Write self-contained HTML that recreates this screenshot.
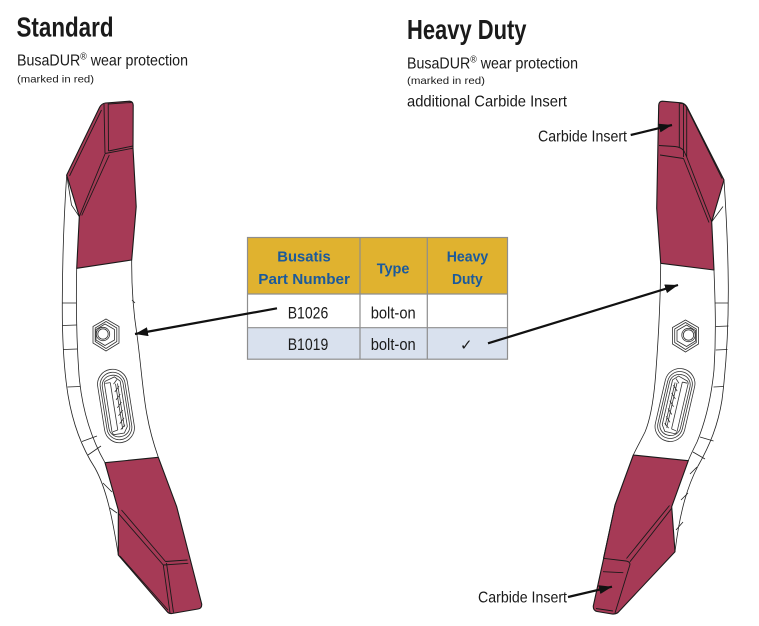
<!DOCTYPE html>
<html><head><meta charset="utf-8"><style>
html,body{margin:0;padding:0;background:#fff;}
svg{display:block;}
text{font-family:"Liberation Sans Narrow","Liberation Sans",sans-serif;}
</style></head><body>
<svg width="759" height="626" viewBox="0 0 759 626" xmlns="http://www.w3.org/2000/svg">
<defs>
<marker id="ah" markerUnits="userSpaceOnUse" markerWidth="14" markerHeight="10" refX="13" refY="4.5" orient="auto">
<path d="M0,0 L13,4.5 L0,9 Z" fill="#111"/>
</marker>
</defs>
<rect width="759" height="626" fill="#fff"/>

<!-- Titles -->
<text x="16.5" y="36.7" font-size="28" font-weight="bold" fill="#1a1a1a" textLength="97" lengthAdjust="spacingAndGlyphs">Standard</text>
<text x="17" y="65.7" font-size="16" fill="#1a1a1a" textLength="171" lengthAdjust="spacingAndGlyphs">BusaDUR<tspan font-size="10" dy="-6">®</tspan><tspan dy="6"> wear protection</tspan></text>
<text x="17" y="82.5" font-size="10.5" fill="#1a1a1a" textLength="77" lengthAdjust="spacingAndGlyphs">(marked in red)</text>

<text x="407" y="39" font-size="28" font-weight="bold" fill="#1a1a1a" textLength="119.5" lengthAdjust="spacingAndGlyphs">Heavy Duty</text>
<text x="407" y="68.3" font-size="16" fill="#1a1a1a" textLength="171" lengthAdjust="spacingAndGlyphs">BusaDUR<tspan font-size="10" dy="-6">®</tspan><tspan dy="6"> wear protection</tspan></text>
<text x="407" y="84" font-size="10.5" fill="#1a1a1a" textLength="78" lengthAdjust="spacingAndGlyphs">(marked in red)</text>
<text x="407" y="106.7" font-size="16" fill="#1a1a1a" textLength="160" lengthAdjust="spacingAndGlyphs">additional Carbide Insert</text>

<text x="538" y="141.7" font-size="16" fill="#1a1a1a" textLength="89" lengthAdjust="spacingAndGlyphs">Carbide Insert</text>
<text x="478" y="602.5" font-size="16" fill="#1a1a1a" textLength="89" lengthAdjust="spacingAndGlyphs">Carbide Insert</text>

<!-- ================= LEFT SHANK ================= -->
<g fill="none" stroke="#222" stroke-width="0.8">
  <!-- outer left edge -->
  <path d="M66.7,175 C64,215 62.5,260 62.3,300 C62,340 64,370 68,395 C73,425 82,448 95,468 C106,488 112,515 118.3,555"/>
  <!-- inner left edge -->
  <path d="M76.7,268 C76,300 76.5,340 79,375 C82,410 92,440 105,462.7"/>
  <!-- ticks -->
  <path d="M62.3,303 L76,303 M62.5,325.5 L76.4,325 M63.5,349.5 L77.2,349 M67.5,387 L80.5,386.5 M82,441.5 L97,436 M88,455 L101,446 M103,483 L112,492 M110,508 L117,513"/>
  <!-- small lines under top red -->
  <path d="M66.7,175 L71.5,205 L79.3,216.7"/>
  <!-- right edge -->
  <path d="M131.7,260 C131.5,285 133,310 137,335 C141,365 143,395 147,415 C150,432 154,445 158.3,457.3"/>
  <path d="M132,300 L135,303"/>
</g>

<!-- top red left -->
<g stroke="#1a1a1a" stroke-width="1.1" stroke-linejoin="round">
  <path d="M76.7,268.3 L79.3,216.7 L66.7,175 L99.5,107.5 Q101.5,103.5 105.5,103 L129.5,101.2 Q133,101.5 133.2,105 L133,148 L136.2,206.7 L131.7,260 Z" fill="#A63A56"/>
  <path d="M69.5,176 L101.5,110 M104,104 L105,153.5 M108.2,103.2 L108.5,151 M105,153.5 L133,148.2 M108.5,151 L133,146 M105,154 L79.3,216.7 M109.3,155 L81.7,215.5 M108,104 L131.5,102.5" fill="none" stroke-width="0.9"/>
</g>

<!-- bottom red left -->
<g stroke="#1a1a1a" stroke-width="1.1" stroke-linejoin="round">
  <path d="M105,462.7 L158.3,457.3 L176.7,506.7 L201.7,604 Q202,608.5 198,609 L172,613.5 Q169,614 167,611.5 L118.3,555 L118.3,510 Z" fill="#A63A56"/>
  <path d="M118.3,513.3 L163.3,565 M121.5,510 L165.5,561.5 M163.3,565 L188.3,563.3 M165.5,561.5 L187.5,560 M163.3,565 L170,613 M166.5,563 L173.5,612.5 M120,556 L168,610" fill="none" stroke-width="0.9"/>
</g>

<!-- left nut -->
<g transform="translate(106,335)" fill="none" stroke="#333" stroke-width="0.8">
  <polygon points="0,-16 13,-8.5 13,8 0,16 -13,8 -13,-8.5"/>
  <polygon points="0,-13.5 10.8,-7 10.8,6.5 0,13.5 -10.8,6.5 -10.8,-7"/>
  <polygon points="-1,-11 8.5,-5.5 8.5,5 -1,10.5 -10,5 -10,-5.5"/>
  <circle cx="-3" cy="-1" r="6.7"/>
  <circle cx="-3" cy="-1" r="5.2"/>
</g>
<!-- left slot -->
<g transform="translate(116,406) rotate(-9)" fill="none" stroke="#333" stroke-width="0.8">
  <rect x="-15" y="-37" width="30" height="74" rx="15"/>
  <rect x="-12.5" y="-34" width="25" height="68" rx="12.5"/>
  <rect x="-10.5" y="-31" width="21" height="62" rx="10"/>
  <path d="M-7,-26 L3,-29 L8,-24 L8,22 L4,28 L-7,28 L-8,25 L-8,-24 Z"/>
  <path d="M-2,-24 L-2,24 M-7,-24 L-2,-24 M-7,25 L-2,24"/>
  <path d="M1,-22 L5,-26 M1,-14 L6,-19 M1,-6 L6,-11 M1,2 L6,-3 M1,10 L6,5 M1,18 L6,13 M1,24 L6,20 M3,-22 L3,24 M5,-22 L5,22"/>
</g>

<!-- ================= RIGHT SHANK ================= -->
<g fill="none" stroke="#222" stroke-width="0.8">
  <!-- outer right edge -->
  <path d="M724,180 C726,210 728,250 728.3,285 C728.5,320 727,360 722,400 C718,425 710,445 698,466 C688,485 680,510 675,551.7"/>
  <!-- inner right edge -->
  <path d="M714,270 C715,300 716.5,330 714,370 C711,400 704,425 697,442 C693,450 690,456 688.3,460.7"/>
  <!-- ticks -->
  <path d="M715,303 L728.3,303 M715.8,326.5 L728.5,326 M715.8,350 L727.5,349.5 M713.5,387 L723.5,386.5 M700,437 L713.5,441 M693,452 L705,459 M690,474 L697,467 M681,500 L688,493 M676,530 L683,522"/>
  <path d="M711.7,221.7 L723,206.5"/>
  <!-- left edge of steel -->
  <path d="M660.7,263.3 C660.5,290 659,330 656,370 C654,400 650,420 645,432 C640,442 636,449 633.3,455"/>
</g>

<!-- top red right -->
<g stroke="#1a1a1a" stroke-width="1.1" stroke-linejoin="round">
  <path d="M658.7,105 Q659,101.3 662.5,101.2 L681,102.8 Q685,103.5 687,107 L724,180 L711.7,221.7 L714,270 L660.7,263.3 L656.7,208.3 Z" fill="#A63A56"/>
  <path d="M679.3,103 L679.3,147 M683.5,104 L683.5,157 M659,145.5 L675,146.5 Q681,147 684,151 L686.7,157 M660,155 L683.5,158.5 M686.7,157 L711.7,221.7 M683.5,158.5 L709,222.5 M687.5,109 L722,178.5 M680,103.5 Q685,103 686.7,108 L686.7,157" fill="none" stroke-width="0.9"/>
</g>

<!-- bottom red right -->
<g stroke="#1a1a1a" stroke-width="1.1" stroke-linejoin="round">
  <path d="M633.3,455 L688.3,460.7 L671.7,506.7 L675,551.7 L618,612.5 Q615.5,614.3 612,614 L597,611.5 Q593,610.5 593.3,606 L603.3,560 L615,505 Z" fill="#A63A56"/>
  <path d="M603.3,558.3 L626,561 Q630,561.5 630,564.5 L615,613 M603,571.7 L623.3,572.7 M630,561.7 L671.7,508.3 M626.5,558.5 L669.5,505.5 M615,505.5 L603.5,558 M596,608.5 L613,611" fill="none" stroke-width="0.9"/>
</g>

<!-- right nut -->
<g transform="translate(685.5,336)" fill="none" stroke="#333" stroke-width="0.8">
  <polygon points="0,-16 13,-8.5 13,8 0,16 -13,8 -13,-8.5"/>
  <polygon points="0,-13.5 10.8,-7 10.8,6.5 0,13.5 -10.8,6.5 -10.8,-7"/>
  <polygon points="1,-11 10,-5.5 10,5 1,10.5 -8.5,5 -8.5,-5.5"/>
  <circle cx="3" cy="-1" r="6.7"/>
  <circle cx="3" cy="-1" r="5.2"/>
</g>
<!-- right slot -->
<g transform="translate(675,405) rotate(13)" fill="none" stroke="#333" stroke-width="0.8">
  <rect x="-15" y="-37" width="30" height="74" rx="15"/>
  <rect x="-12.5" y="-34" width="25" height="68" rx="12.5"/>
  <rect x="-10.5" y="-31" width="21" height="62" rx="10"/>
  <path d="M7,-26 L-3,-29 L-8,-24 L-8,22 L-4,28 L7,28 L8,25 L8,-24 Z"/>
  <path d="M2,-24 L2,24 M7,-24 L2,-24 M7,25 L2,24"/>
  <path d="M-1,-22 L-5,-26 M-1,-14 L-6,-19 M-1,-6 L-6,-11 M-1,2 L-6,-3 M-1,10 L-6,5 M-1,18 L-6,13 M-1,24 L-6,20 M-3,-22 L-3,24 M-5,-22 L-5,22"/>
</g>

<!-- ================= TABLE ================= -->
<rect x="247.5" y="237.5" width="260" height="56.5" fill="#E0B22F"/>
<rect x="247.5" y="294" width="260" height="33.7" fill="#ffffff"/>
<rect x="247.5" y="327.7" width="260" height="31.5" fill="#D9E1EE"/>
<g stroke="#8E8E8E" stroke-width="1.2" fill="none">
  <rect x="247.5" y="237.5" width="260" height="121.7"/>
  <path d="M247.5,294 L507.5,294 M247.5,327.7 L507.5,327.7 M360,237.5 L360,359.2 M427.3,237.5 L427.3,359.2"/>
</g>
<g fill="#1B5A9C" font-weight="bold" font-size="15">
  <text x="277.3" y="261.7" textLength="53.4" lengthAdjust="spacingAndGlyphs">Busatis</text>
  <text x="258.3" y="284" textLength="91.7" lengthAdjust="spacingAndGlyphs">Part Number</text>
  <text x="376.7" y="273.3" textLength="32.7" lengthAdjust="spacingAndGlyphs">Type</text>
  <text x="446.7" y="261.7" textLength="41.6" lengthAdjust="spacingAndGlyphs">Heavy</text>
  <text x="452" y="284" textLength="30.7" lengthAdjust="spacingAndGlyphs">Duty</text>
</g>
<g fill="#1a1a1a" font-size="17">
  <text x="287.7" y="318.3" textLength="40.6" lengthAdjust="spacingAndGlyphs">B1026</text>
  <text x="370.7" y="318.3" textLength="45" lengthAdjust="spacingAndGlyphs">bolt-on</text>
  <text x="287.7" y="350" textLength="40.6" lengthAdjust="spacingAndGlyphs">B1019</text>
  <text x="370.7" y="350" textLength="45" lengthAdjust="spacingAndGlyphs">bolt-on</text>
  <text x="460" y="350" font-family="'DejaVu Sans',sans-serif" font-size="15" textLength="12.5" lengthAdjust="spacingAndGlyphs">✓</text>
</g>

<!-- ================= ARROWS ================= -->
<g stroke="#111" stroke-width="2.2" fill="none" marker-end="url(#ah)">
  <line x1="277" y1="308.3" x2="135" y2="334"/>
  <line x1="488" y1="343.3" x2="678" y2="285"/>
  <line x1="630.7" y1="135" x2="672" y2="125"/>
  <line x1="568" y1="597" x2="612" y2="586.7"/>
</g>
</svg>
</body></html>
